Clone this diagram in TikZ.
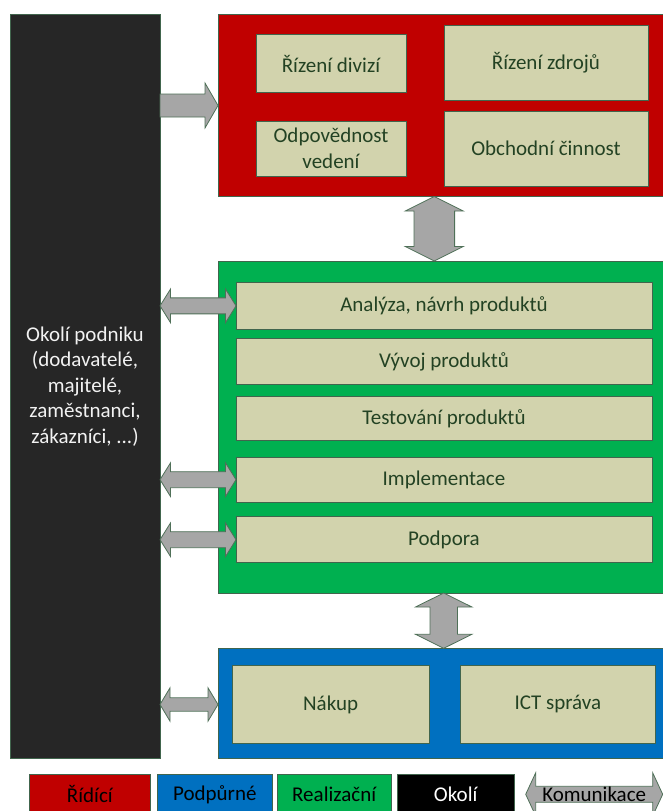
\documentclass[tikz,border=0pt]{standalone}
\usepackage{fontspec}
\setmainfont{Carlito}
\usetikzlibrary{calc}
\definecolor{cRed}{HTML}{C00000}
\definecolor{cGreen}{HTML}{00B050}
\definecolor{cBlue}{HTML}{0070C0}
\definecolor{cBlack}{HTML}{262626}
\definecolor{cTan}{HTML}{D2D3AD}
\definecolor{cTxt}{HTML}{234223}
\definecolor{cEdge}{HTML}{41654D}
\definecolor{cArr}{HTML}{A6A6A6}
\definecolor{cArrEdge}{HTML}{4F7058}
\definecolor{cLight}{HTML}{F2F2F2}
\tikzset{
  bx/.style={draw=cEdge, line width=0.8pt, inner sep=0pt, outer sep=0pt,
    anchor=north west, align=center, font=\fontsize{21}{25.5}\selectfont},
  inbox/.style={bx, fill=cTan, text=cTxt},
  legbox/.style={bx, minimum height=40pt},
  barrow/.style={draw=cArrEdge, fill=cArr, line width=0.8pt, line join=miter},
}
% horizontal double block arrow: #1 left end, #2 right end, #3 shaft half, #4 head half, #5 head length
\newcommand\HDArrow[5]{%
  \draw[barrow] let \p1=(#1), \p2=(#2) in
    (\x1,\y1) -- (\x1+#5pt,\y1+#4pt) -- (\x1+#5pt,\y1+#3pt) -- (\x2-#5pt,\y1+#3pt)
    -- (\x2-#5pt,\y1+#4pt) -- (\x2,\y1) -- (\x2-#5pt,\y1-#4pt) -- (\x2-#5pt,\y1-#3pt)
    -- (\x1+#5pt,\y1-#3pt) -- (\x1+#5pt,\y1-#4pt) -- cycle;}
% horizontal single block arrow (pointing right)
\newcommand\HSArrow[5]{%
  \draw[barrow] let \p1=(#1), \p2=(#2) in
    (\x1,\y1+#3pt) -- (\x2-#5pt,\y1+#3pt) -- (\x2-#5pt,\y1+#4pt) -- (\x2,\y1)
    -- (\x2-#5pt,\y1-#4pt) -- (\x2-#5pt,\y1-#3pt) -- (\x1,\y1-#3pt) -- cycle;}
% vertical double block arrow: #1 top end, #2 bottom end
\newcommand\VDArrow[5]{%
  \draw[barrow] let \p1=(#1), \p2=(#2) in
    (\x1,\y1) -- (\x1+#4pt,\y1-#5pt) -- (\x1+#3pt,\y1-#5pt) -- (\x1+#3pt,\y2+#5pt)
    -- (\x1+#4pt,\y2+#5pt) -- (\x1,\y2) -- (\x1-#4pt,\y2+#5pt) -- (\x1-#3pt,\y2+#5pt)
    -- (\x1-#3pt,\y1-#5pt) -- (\x1-#4pt,\y1-#5pt) -- cycle;}
\begin{document}
\begin{tikzpicture}[x=1pt, y=-1pt]
\useasboundingbox (0,0) rectangle (663,811);
\clip (0,0) rectangle (663,811);

% environment
\node[bx, fill=cBlack, text=cLight, minimum width=150pt, minimum height=744pt] (blk) at (10,14.5)
  {Okolí podniku\\(dodavatelé,\\majitelé,\\zaměstnanci,\\zákazníci, ...)};

% management (red)
\node[bx, fill=cRed, minimum width=447pt, minimum height=182pt] (red) at (218,14.5) {};
\node[inbox, minimum width=150pt, minimum height=57.6pt] (rd1) at (256,34.7) {Řízení divizí};
\node[inbox, minimum width=204pt, minimum height=75pt] (rd2) at (444,25) {Řízení zdrojů};
\node[inbox, minimum width=150pt, minimum height=55pt] (rd3) at (256,121) {Odpovědnost\\vedení};
\node[inbox, minimum width=204pt, minimum height=75pt] (rd4) at (444,111) {Obchodní činnost};

% realisation (green)
\node[bx, fill=cGreen, minimum width=447pt, minimum height=332pt] (grn) at (218,261) {};
\node[inbox, minimum width=416pt, minimum height=46.3pt] (a1) at (236,282.7) {Analýza, návrh produktů};
\node[inbox, minimum width=416pt, minimum height=46pt] (a2) at (236,338.7) {Vývoj produktů};
\node[inbox, minimum width=416pt, minimum height=44pt] (a3) at (236,396.7) {Testování produktů};
\node[inbox, minimum width=416pt, minimum height=45.3pt] (a4) at (236,457) {Implementace};
\node[inbox, minimum width=416pt, minimum height=46pt] (a5) at (236,516.7) {Podpora};

% support (blue)
\node[bx, fill=cBlue, minimum width=447pt, minimum height=110pt] (blu) at (218,648.3) {};
\node[inbox, minimum width=197.3pt, minimum height=78.4pt] (b1) at (232,665.3) {Nákup};
\node[inbox, minimum width=195.7pt, minimum height=78.4pt] (b2) at (460,665.3) {ICT správa};

% block arrows
\HSArrow{blk.east|-red.west}{red.west}{11.5}{22.5}{13}
\coordinate (v1x) at (434.3,0);
\coordinate (v2x) at (443.7,0);
\VDArrow{v1x|-red.south}{v1x|-grn.north}{20.3}{29}{14.5}
\VDArrow{v2x|-grn.south}{v2x|-blu.north}{13.7}{28.2}{14}
\HDArrow{blk.east|-a1.west}{a1.west}{8}{16.8}{10.5}
\HDArrow{blk.east|-a4.west}{a4.west}{8}{16.8}{10.5}
\HDArrow{blk.east|-a5.west}{a5.west}{8}{16.8}{10.5}
\HDArrow{blk.east|-b1.west}{blu.west|-b1.west}{6.7}{16.7}{10}

% legend
\node[legbox, fill=cRed, text=black, minimum width=120.3pt] (leg1) at (29.7,774.3) {Řídící};
\node[legbox, fill=cBlue, text=black, minimum width=114.3pt] (leg2) at (157.7,774.3) {Podpůrné};
\node[legbox, fill=cGreen, text=black, minimum width=113.7pt] (leg3) at (277.3,774.3) {Realizační};
\node[legbox, fill=black, text=white, minimum width=116.7pt] (leg4) at (397.3,774.3) {Okolí};
\coordinate (k1) at (525.7,794.3);
\coordinate (k2) at (662.7,794.3);
\HDArrow{k1}{k2}{8}{21.5}{10}
\node[inner sep=0pt, text=black, font=\fontsize{21}{25.5}\selectfont] (leg5) at ($(k1)!0.5!(k2)$) {Komunikace};
\end{tikzpicture}
\end{document}
